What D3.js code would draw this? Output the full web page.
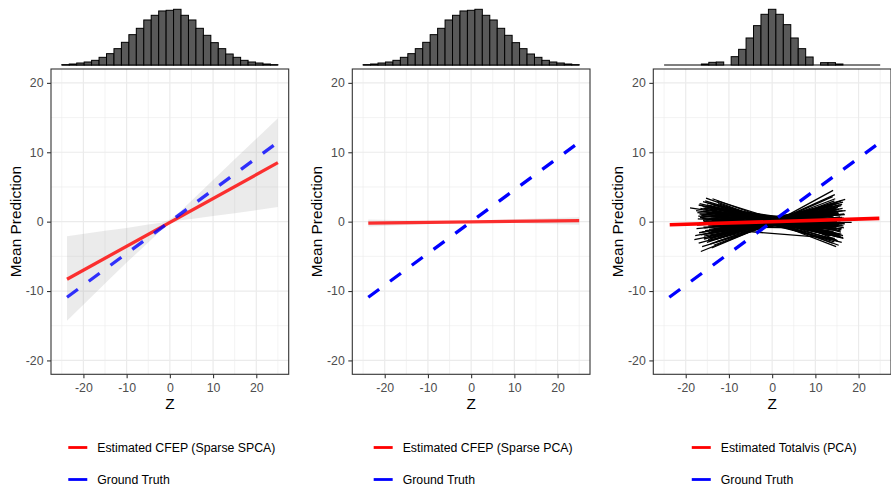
<!DOCTYPE html>
<html>
<head>
<meta charset="utf-8">
<script src="https://cdn.jsdelivr.net/npm/d3@7"></script>
<style>
  body { margin: 0; background: #fff; }
  svg { display: block; font-family: "Liberation Sans", Arial, sans-serif; }
</style>
</head>
<body>
<svg id="chart" width="891" height="489"></svg>
<script>
// ---- data ---------------------------------------------------------------

// Marginal histograms of Z: 29 equal bins over [-25, 25]
const histRange = [-25, 25];
const histSPCA = [1, 3, 6, 9, 14, 23, 34, 49, 68, 91, 110, 135, 149, 162, 164,
                  167, 149, 135, 110, 89, 67, 49, 33, 23, 14, 9, 6, 3, 1];
const histPCA = [1, 3, 6, 9, 14, 23, 34, 49, 68, 91, 110, 135, 149, 162, 164,
                 167, 149, 135, 110, 89, 67, 49, 33, 23, 14, 9, 6, 3, 1];
const histTotalvis = [0, 0, 0, 0, 0, 3, 8, 9, 0, 25, 47, 81, 118, 152, 167,
                      152, 121, 81, 49, 24, 0, 7, 7, 3, 0, 0, 0, 0, 0];

// Estimated curves (value at each end of the Z range)
const estZ = [-23.8, 25];
const estSPCA = [-8.3, 8.5];
const estPCA = [-0.2, 0.15];
const estZTotalvis = [-23.7, 24.8];
const estTotalvis = [-0.45, 0.47];

// Ground truth line
const truthZ = [-23.8, 25];
const truthY = [-10.9, 11.45];

// Confidence bands of the fitted curves
const bandZ = [-23.8, -15, -10, -5, -2, 0, 2, 5, 10, 15, 25];
const bandLowSPCA  = [-14.3, -8.9, -5.9, -3.0, -1.25, -0.3, 0.15, 0.4, 0.8, 1.2, 2.1];
const bandHighSPCA = [-2.1, -1.3, -0.9, -0.4, -0.15, 0.3, 1.25, 3.0, 6.0, 9.0, 14.9];
const bandLowPCA   = [-0.7, -0.5, -0.38, -0.25, -0.15, -0.1, -0.08, -0.12, -0.2, -0.3, -0.45];
const bandHighPCA  = [0.3, 0.2, 0.12, 0.08, 0.1, 0.1, 0.15, 0.25, 0.35, 0.45, 0.65];

// Per-sample Totalvis prediction curves: [zLeft, yLeft, zMid, yMid, zRight, yRight]
const totalvisSamples = [
  [-19.0, 2.0, -1, 0.3, 16.0, -1.8], [-16.5, -4.3, 1, 0.1, 14.5, 3.9],
  [-13.8, 3.3, 0, 0.2, 14.0, -3.1],  [-15.5, 3.0, -2, 0.5, 16.5, -2.4],
  [-14.0, -3.8, 2, 0.4, 14.1, 4.5],  [-17.0, -3.1, 0, -0.2, 15.0, 2.6],
  [-12.5, 2.6, 1, -0.1, 18.4, -0.1], [-16.0, 1.5, 0, 0.0, 13.5, -2.0],
  [-15.0, -2.2, 0, 0.1, 15.5, 1.8],  [-14.5, 2.3, -1, 0.2, 14.8, -3.6],
  [-13.0, -2.9, 1, 0.0, 16.0, 3.0],  [-18.0, -2.6, 0, -0.3, 14.0, 1.4],
  [-12.0, 1.8, 0, 0.3, 15.0, -1.2],  [-15.8, 0.8, 0, 0.1, 16.2, -0.5],
  [-14.2, -1.5, 0, 0.0, 13.8, 2.2],  [-16.8, 2.6, 1, 0.0, 15.2, -2.8],
  [-13.5, -3.4, -1, -0.4, 14.6, 3.3],[-15.2, 1.2, 0, 0.4, 16.8, 1.0],
  [-14.8, -0.6, 0, -0.2, 15.8, -1.3],[-17.5, -1.0, 0, 0.0, 14.2, 0.8],
  [-12.8, 3.0, 0, 0.5, 13.2, -2.0],  [-16.2, -3.6, 0, -0.5, 15.6, 2.4],
  [-14.0, 0.2, 0, 0.6, 17.0, 1.6],   [-15.6, 2.0, 0, -0.3, 14.4, -2.9],
  [-13.2, -1.9, 0, 0.2, 16.4, 2.8],  [-17.2, 0.4, 0, -0.1, 15.0, -0.2],
  [-14.6, -2.8, 2, 0.3, 14.0, 3.6],  [-16.0, 2.9, 0, 0.0, 15.4, -3.4],
  [-13.6, -0.3, 0, 0.3, 16.6, 0.5],  [-15.4, -1.8, 0, -0.4, 14.8, -0.8],
  [-12.2, 1.2, 0, 0.1, 13.6, -1.5],  [-16.6, 1.9, 0, 0.0, 14.9, 1.2],
  [-14.4, -2.4, 0, -0.1, 15.9, -2.1],[-15.9, 0.0, 0, 0.2, 16.0, 0.3],
  [-13.9, 1.6, 0, -0.2, 14.3, -2.5], [-17.8, -2.0, 0, 0.1, 15.1, 2.0],
  [-15.0, 2.7, 0, 0.4, 13.9, -0.9],  [-14.3, -3.2, 0, -0.2, 16.3, 1.6],
  [-16.4, 0.9, 0, -0.3, 15.7, -1.9], [-13.4, -1.2, 0, 0.5, 14.7, 2.6],
  [-15.7, -0.9, 0, 0.2, 17.5, 0.2],  [-14.9, 1.0, 0, -0.1, 14.1, -1.1],
  [-16.9, -1.6, 0, 0.3, 15.3, 1.3],  [-13.1, 0.6, 0, -0.4, 16.1, -3.0],
  [-15.3, 3.4, -1, 0.2, 14.5, -1.6], [-14.1, -2.0, 0, -0.3, 15.5, -0.4],
  [-17.3, 1.3, 0, 0.6, 14.0, 2.0],   [-12.6, -2.3, 0, 0.0, 16.7, 1.1],
  [-16.1, 2.2, 0, 0.2, 15.0, -0.7],  [-14.7, -0.1, 0, -0.5, 13.5, -2.6],
  [-15.1, -3.0, 0, 0.1, 16.9, 3.2],  [-13.7, 2.4, 0, 0.0, 15.8, -2.2],
  [-16.3, -0.4, 0, 0.4, 14.6, 1.9],  [-14.5, 1.7, 0, 0.1, 16.2, 0.6],
  [-15.8, -2.5, 0, -0.2, 14.2, -1.4],[-12.9, 0.3, 0, -0.1, 15.6, 1.5],
  [-17.0, 2.4, 0, 0.3, 15.0, 0.0],   [-14.0, -1.4, 0, 0.2, 14.9, -1.9],
  [-16.7, 0.6, 0, -0.2, 16.0, 2.3],  [-13.3, -2.6, 0, -0.4, 14.4, 0.9],
  [-15.2, 1.4, -6, 0.9, 14.8, -1.0], [-14.6, -1.1, 5, 0.6, 15.1, 1.7],
  [-16.3, 0.5, -4, -0.6, 13.9, 0.2], [-13.8, -0.7, 6, -0.9, 16.4, -2.3],
  [-15.9, 1.9, -8, 1.5, 14.3, -0.6], [-14.2, -1.7, 7, 1.0, 15.4, 1.2],
  [-12.7, 0.9, -5, 0.1, 14.6, 1.8],  [-16.9, -0.2, 4, 0.5, 15.9, -1.5],
  [-14.9, 2.1, -3, 0.4, 13.7, 0.4],  [-15.5, -1.3, 8, 0.2, 16.6, -0.9],
  [-13.3, 1.1, -7, 0.8, 15.3, -2.2], [-17.6, 1.6, 5, -0.4, 14.9, -1.7],
  [-14.4, -2.0, -6, -1.2, 15.7, 0.7],[-16.0, 0.2, 6, 0.9, 14.0, 2.4],
  [-13.0, -1.0, -4, -0.2, 16.8, -0.3],[-15.7, 1.0, 3, 0.0, 15.2, 2.1],
  [-14.0, -0.4, -8, -1.3, 14.5, -2.4],[-16.5, -1.9, 7, 0.6, 15.6, 0.5],
  [-12.4, 0.0, -5, 0.6, 13.3, 1.0],  [-15.1, 2.4, 5, -0.7, 16.1, -1.0],
  [-14.8, -2.6, -6, -0.8, 14.7, 1.4],[-17.1, 0.8, 4, 0.3, 15.0, -2.7],
  [-13.6, 0.5, -3, -0.3, 16.3, 1.9], [-15.9, -0.8, 6, -0.5, 14.1, -1.8],
  [-14.3, 1.3, -7, 1.1, 15.8, 0.1],  [-16.2, -1.5, 5, 0.8, 14.4, 3.0],
  [-13.5, 1.8, -4, 0.7, 15.5, -0.2], [-15.3, 0.1, 7, -0.4, 16.5, -0.6],
  [-14.7, -1.6, -6, -0.5, 13.8, 0.9],[-16.8, 1.1, 3, 0.2, 15.3, 1.1],
  [-13.9, -2.3, -5, -0.7, 14.6, 2.0],[-15.6, 2.2, 6, 0.3, 16.0, -1.2],
  [-14.1, 0.7, -8, 0.9, 15.1, -2.0], [-16.4, -0.3, 4, -0.6, 14.8, -1.1],
  [-13.2, 1.5, -3, 0.1, 16.2, 2.5],  [-15.8, -2.1, 5, 0.4, 14.2, 1.5],
  [-14.5, 0.4, -6, -0.3, 15.9, 1.0], [-17.4, -0.5, 7, 0.7, 15.4, -0.4],
  [-13.7, 2.0, -4, 0.2, 14.9, -0.8], [-15.0, -0.2, 6, -0.2, 16.4, -2.0]
];

// Axes and legend text
const xTicks = [-20, -10, 0, 10, 20];
const xMinorTicks = [-25, -15, -5, 5, 15, 25];
const yTicks = [-20, -10, 0, 10, 20];
const yMinorTicks = [-15, -5, 5, 15];
const xTitle = "Z";
const yTitle = "Mean Prediction";
const estLabels = ["Estimated CFEP (Sparse SPCA)", "Estimated CFEP (Sparse PCA)", "Estimated Totalvis (PCA)"];
const truthLabel = "Ground Truth";

// ---- layout -------------------------------------------------------------
const svg = d3.select("#chart");
const plotTop = 69, plotBottom = 374.3, plotWidth = 237.7;
const plotLefts = [51, 352.3, 653.3];
const histBase = 65, histPeak = 9.3;
const xDomain = [-27.5, 27.5], yDomain = [-22, 22];
const gridColor = "#EBEBEB";
const RED = "#FF0000", BLUE = "#0000FF";

const panels = [
  { hist: histSPCA, estZ: estZ, est: estSPCA, lo: bandLowSPCA, hi: bandHighSPCA,
    estOpacity: 0.8, truthOpacity: 0.8, estWidth: 3.3, label: estLabels[0] },
  { hist: histPCA, estZ: estZ, est: estPCA, lo: bandLowPCA, hi: bandHighPCA,
    estOpacity: 0.8, truthOpacity: 1, estWidth: 3.3, label: estLabels[1] },
  { hist: histTotalvis, estZ: estZTotalvis, est: estTotalvis, samples: totalvisSamples,
    estOpacity: 1, truthOpacity: 1, estWidth: 3.6, label: estLabels[2] }
];

panels.forEach((p, i) => {
  const left = plotLefts[i], right = left + plotWidth;
  const x = d3.scaleLinear().domain(xDomain).range([left, right]);
  const y = d3.scaleLinear().domain(yDomain).range([plotBottom, plotTop]);
  const g = svg.append("g");

  // marginal histogram (the baseline shows through where a bin is empty)
  const nBins = p.hist.length;
  const binW = (histRange[1] - histRange[0]) / nBins;
  const hy = d3.scaleLinear().domain([0, d3.max(p.hist)]).range([histBase, histPeak]);
  g.append("line")
    .attr("x1", x(histRange[0])).attr("x2", x(histRange[1]))
    .attr("y1", histBase).attr("y2", histBase)
    .attr("stroke", "#000").attr("stroke-width", 1.2);
  g.append("g").selectAll("rect").data(p.hist).join("rect")
    .attr("display", d => d > 0 ? null : "none")
    .attr("x", (d, k) => x(histRange[0] + k * binW))
    .attr("width", (d, k) => x(histRange[0] + (k + 1) * binW) - x(histRange[0] + k * binW))
    .attr("y", d => hy(d))
    .attr("height", d => histBase - hy(d))
    .attr("fill", "#595959")
    .attr("stroke", "#000")
    .attr("stroke-width", 1);

  // panel background and grid
  g.append("rect").attr("x", left).attr("y", plotTop)
    .attr("width", plotWidth).attr("height", plotBottom - plotTop).attr("fill", "#fff");
  const grid = g.append("g");
  grid.selectAll(".xmin").data(xMinorTicks).join("line")
    .attr("x1", d => x(d)).attr("x2", d => x(d)).attr("y1", plotTop).attr("y2", plotBottom)
    .attr("stroke", gridColor).attr("stroke-width", 0.6);
  grid.selectAll(".ymin").data(yMinorTicks).join("line")
    .attr("y1", d => y(d)).attr("y2", d => y(d)).attr("x1", left).attr("x2", right)
    .attr("stroke", gridColor).attr("stroke-width", 0.6);
  grid.selectAll(".xmaj").data(xTicks).join("line")
    .attr("x1", d => x(d)).attr("x2", d => x(d)).attr("y1", plotTop).attr("y2", plotBottom)
    .attr("stroke", gridColor).attr("stroke-width", 1.2);
  grid.selectAll(".ymaj").data(yTicks).join("line")
    .attr("y1", d => y(d)).attr("y2", d => y(d)).attr("x1", left).attr("x2", right)
    .attr("stroke", gridColor).attr("stroke-width", 1.2);

  // confidence band
  if (p.lo) {
    const bandData = bandZ.map((z, k) => ({ z, lo: p.lo[k], hi: p.hi[k] }));
    g.append("path").datum(bandData)
      .attr("d", d3.area().x(d => x(d.z)).y0(d => y(d.lo)).y1(d => y(d.hi)))
      .attr("fill", "#999999").attr("fill-opacity", 0.2);
  }

  // per-sample curves
  if (p.samples) {
    const line = d3.line().x(d => x(d[0])).y(d => y(d[1]));
    g.append("g").selectAll("path").data(p.samples).join("path")
      .attr("d", s => line([[s[0], s[1]], [s[2], s[3]], [s[4], s[5]]]))
      .attr("fill", "none").attr("stroke", "#000").attr("stroke-width", 1.3)
      .attr("stroke-linejoin", "round");
  }

  const line = d3.line().x(d => x(d[0])).y(d => y(d[1]));
  // estimated curve
  g.append("path").datum(p.estZ.map((z, k) => [z, p.est[k]]))
    .attr("d", line).attr("fill", "none")
    .attr("stroke", RED).attr("stroke-opacity", p.estOpacity)
    .attr("stroke-width", p.estWidth);
  // ground truth
  g.append("path").datum(truthZ.map((z, k) => [z, truthY[k]]))
    .attr("d", line).attr("fill", "none")
    .attr("stroke", BLUE).attr("stroke-opacity", p.truthOpacity)
    .attr("stroke-width", 3.3).attr("stroke-dasharray", "13.5,13.5");

  // panel border
  g.append("rect").attr("x", left).attr("y", plotTop)
    .attr("width", plotWidth).attr("height", plotBottom - plotTop)
    .attr("fill", "none").attr("stroke", "#333333").attr("stroke-width", 1.1);

  // axes
  const styleAxis = sel => {
    sel.select(".domain").remove();
    sel.selectAll(".tick line").attr("stroke", "#333333").attr("stroke-width", 1.1);
    sel.selectAll(".tick text").attr("fill", "#4D4D4D")
      .style("font-size", "12.3px").style("font-family", "'Liberation Sans', Arial, sans-serif");
  };
  g.append("g").attr("transform", `translate(0,${plotBottom})`)
    .call(d3.axisBottom(x).tickValues(xTicks).tickSize(4).tickPadding(5).tickFormat(d3.format("d")))
    .call(styleAxis);
  g.append("g").attr("transform", `translate(${left},0)`)
    .call(d3.axisLeft(y).tickValues(yTicks).tickSize(4).tickPadding(3.5).tickFormat(d3.format("d")))
    .call(styleAxis);
  g.selectAll(".tick text").text(d => String(d).replace("\u2212", "-"));

  // axis titles
  g.append("text").attr("x", (left + right) / 2).attr("y", 409)
    .attr("text-anchor", "middle").attr("fill", "#000")
    .style("font-size", "15.4px").text(xTitle);
  g.append("text").attr("transform", `translate(${left - 30.5},${(plotTop + plotBottom) / 2}) rotate(-90)`)
    .attr("text-anchor", "middle").attr("fill", "#000")
    .style("font-size", "15.4px").text(yTitle);

  // legend (solid keys)
  const leg = g.append("g");
  const t1 = leg.append("text").attr("y", 447.8 + 4.4).style("font-size", "12.3px")
    .attr("fill", "#000").text(p.label);
  const t2 = leg.append("text").attr("y", 479.7 + 4.4).style("font-size", "12.3px")
    .attr("fill", "#000").text(truthLabel);
  const keyW = 19, gap = 10;
  const start = (left + right) / 2 + 2 - (keyW + gap + t1.node().getComputedTextLength()) / 2;
  t1.attr("x", start + keyW + gap);
  t2.attr("x", start + keyW + gap);
  leg.append("rect").attr("x", start).attr("y", 447.5 - 1.4)
    .attr("width", keyW).attr("height", 2.8).attr("fill", RED);
  leg.append("rect").attr("x", start).attr("y", 479.5 - 1.4)
    .attr("width", keyW).attr("height", 2.8).attr("fill", BLUE);
});
</script>
</body>
</html>
